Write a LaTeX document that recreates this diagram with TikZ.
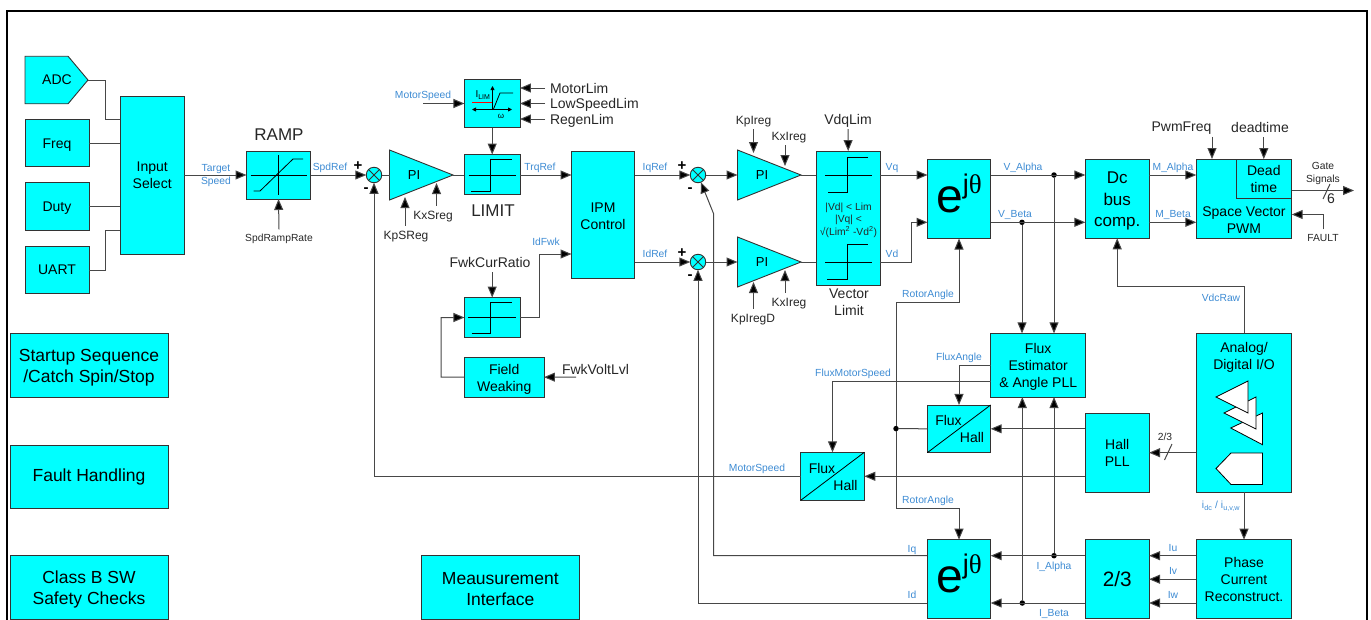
\documentclass[tikz,border=0pt]{standalone}
\usepackage{fontspec}
\usepackage{xcolor}
\usepackage{tikz}
\usetikzlibrary{shapes,arrows.meta,positioning,fit,backgrounds}
\setmainfont{Liberation Sans}
\newfontfamily\thetafont{Liberation Serif}
\definecolor{blockcyan}{HTML}{00FFFF}
\definecolor{sigblue}{HTML}{3D8BD3}
\newcommand{\ejtheta}{\smash{\raisebox{-13pt}{\fontsize{48}{48}\selectfont e\raisebox{19pt}{\fontsize{27}{27}\selectfont j\thetafont θ}}}}
\newcommand{\toprule}[1]{\rule{0pt}{#1pt}}

\begin{document}
\begin{tikzpicture}[x=1pt,y=-1pt,>={Triangle[length=11pt,width=9pt,fill=black]},
    every node/.style={inner sep=0pt,outer sep=0pt,align=center},
    blockbox/.style={draw=black!80,line width=0.9pt,fill=blockcyan,font=\fontsize{14}{17}\selectfont},
    bigbox/.style={blockbox,font=\fontsize{17.5}{21}\selectfont},
    pibox/.style={blockbox,isosceles triangle,isosceles triangle stretches,shape border rotate=0,minimum width=50pt,minimum height=63.5pt,anchor=lower side},
    pitext/.style={font=\fontsize{13}{15}\selectfont},
    sumbox/.style={circle,draw=black!80,line width=0.9pt,fill=blockcyan,minimum size=15.5pt,path picture={\draw[line width=0.8pt] (path picture bounding box.north west) -- (path picture bounding box.south east) (path picture bounding box.north east) -- (path picture bounding box.south west);}},
    dotbox/.style={circle,fill=black,minimum size=5.5pt},
    siglabel/.style={text=sigblue,text depth=0pt,font=\fontsize{10.3}{13}\selectfont},
    parlabel/.style={text=black!85,inner sep=5pt,text depth=0pt,font=\fontsize{14}{17}\selectfont},
    gainlabel/.style={parlabel,font=\fontsize{12}{15}\selectfont},
    smalllabel/.style={parlabel,font=\fontsize{10.3}{12.5}\selectfont},
    sign/.style={text=black,font=\fontsize{15}{15}\selectfont\bfseries},
    wire/.style={draw=black!72,line width=1pt},
    curve/.style={draw=black,line width=0.8pt}]
    \path[use as bounding box,clip] (0,0) rectangle (1371,619);
    \draw[line width=2.2pt] (7,11) rectangle (1367,660);

    % Entradas y rampa
    \node[blockbox,signal,signal to=east,signal pointer angle=100,minimum width=63pt,minimum height=47.5pt,anchor=west] (adc) at (25,80) {};
    \node[font=\fontsize{14}{17}\selectfont] (adctext) at (57,80) {ADC};
    \node[blockbox,minimum width=64pt,minimum height=47.5pt] (freq) at (57,143) {\toprule{13.5}Freq};
    \node[blockbox,minimum width=64pt,minimum height=47.5pt] (duty) at (57,206.5) {\toprule{13.5}Duty};
    \node[blockbox,minimum width=64pt,minimum height=47.5pt] (uart) at (57,270) {UART};
    \node[blockbox,minimum width=63.5pt,minimum height=158.5pt] (select) at (152.2,175.2) {Input\\Select};
    \node[blockbox,minimum width=64pt,minimum height=48pt] (ramp) at (278.5,175) {};
    \node[parlabel,font=\fontsize{17}{20}\selectfont] (ramptitle) at (279,135) {RAMP};
    \node[smalllabel] (ramprate) at (279,238) {SpdRampRate};
    \node[sumbox] (sumspd) at (374,175) {};
    \node[pibox] (pispd) at (389.5,175) {};
    \node[pitext] (pispdtext) at (414,175) {PI};
    \node[gainlabel] (kpsreg) at (406,235) {KpSReg};
    \node[gainlabel] (kxsreg) at (433,215) {KxSreg};
    \coordinate (kpspi) at (405,197);
    \coordinate (kxspi) at (436.5,183);

    % Limites
    \node[blockbox,minimum width=55.5pt,minimum height=48pt] (limcurve) at (492.2,103.5) {};
    \node[blockbox,minimum width=55.5pt,minimum height=40pt] (limit) at (492.2,174.5) {};
    \node[parlabel,font=\fontsize{17}{20}\selectfont] (limittitle) at (493,211) {LIMIT};
    \node[parlabel,anchor=west] (motorlim) at (545,88) {MotorLim};
    \node[parlabel,anchor=west] (lowlim) at (545,103.5) {LowSpeedLim};
    \node[parlabel,anchor=west] (regenlim) at (545,119) {RegenLim};
    \coordinate (speedin) at (423,103.5);
    \node[blockbox,minimum width=63pt,minimum height=127pt] (ipm) at (603,214.5) {\toprule{12.5}IPM\\Control};
    \node[blockbox,minimum width=55.5pt,minimum height=40pt] (fwklim) at (492.2,317.5) {};
    \node[parlabel] (fwkratio) at (490,262) {FwkCurRatio};
    \node[blockbox,minimum width=79.5pt,minimum height=39.5pt] (field) at (504.2,377.2) {\toprule{14}Field\\Weaking};
    \node[parlabel,anchor=west] (fwkvolt) at (557,369) {FwkVoltLvl};
    \coordinate (fwkbend) at (441,377);
    \coordinate (fwkvin) at (576,377);
    \coordinate (idfwkbend) at (539.5,317.5);

    % Cajas sueltas
    \node[bigbox,minimum width=158pt,minimum height=64pt] (startup) at (89,365) {\toprule{18.5}Startup Sequence\\/Catch Spin/Stop};
    \node[bigbox,minimum width=158pt,minimum height=63pt] (fault) at (89,476.5) {Fault Handling};
    \node[bigbox,minimum width=158pt,minimum height=64pt] (classb) at (89,587.5) {\toprule{17}Class B SW\\Safety Checks};
    \node[bigbox,minimum width=158.5pt,minimum height=64pt] (measure) at (500.3,587.5) {\toprule{15}Meausurement\\Interface};

    % Lazos de corriente
    \node[sumbox] (sumiq) at (698,175) {};
    \node[sumbox] (sumid) at (698,262) {};
    \node[pibox] (piq) at (737.5,175) {};
    \node[pibox] (pid) at (737.5,262) {};
    \node[pitext] (piqtext) at (762,175) {PI};
    \node[pitext] (pidtext) at (762,262) {PI};
    \node[gainlabel] (kpireg) at (753.5,120) {KpIreg};
    \node[gainlabel] (kxireg) at (789,136) {KxIreg};
    \node[gainlabel] (kxiregd) at (789,302) {KxIreg};
    \node[gainlabel] (kpiregd) at (753,318) {KpIregD};
    \coordinate (kpqpi) at (753.5,153);
    \coordinate (kxqpi) at (785,166);
    \coordinate (kxdpi) at (785,270);
    \coordinate (kpdpi) at (753.5,282);
    \node[blockbox,minimum width=63.5pt,minimum height=134.7pt] (vlim) at (848.2,218.4) {};
    \node[parlabel] (vdqlim) at (848,119) {VdqLim};
    \node[text=black!85,font=\fontsize{10.3}{12.5}\selectfont] (vlimtext) at (848.5,220) {|Vd| < Lim\\|Vq| <\\√(Lim\textsuperscript{2} -Vd\textsuperscript{2})};
    \node[parlabel] (vlimtitle) at (849,302) {Vector\\Limit};
    \node[blockbox,minimum width=63pt,minimum height=79pt] (erota) at (959,199) {\ejtheta};
    \coordinate (vdbend) at (911,262);
    \coordinate (vdin) at (927.5,222.3);

    % Modulador
    \node[dotbox] (valpha) at (1054,175) {};
    \node[dotbox] (vbeta) at (1022,222.3) {};
    \node[blockbox,font=\fontsize{17}{21.5}\selectfont,minimum width=63.7pt,minimum height=79pt] (dcbus) at (1117.2,198.8) {\toprule{16.5}Dc\\bus\\comp.};
    \node[blockbox,minimum width=95.4pt,minimum height=79.3pt] (svpwm) at (1244,198.7) {};
    \node[blockbox,minimum width=55.7pt,minimum height=39.7pt] (deadbox) at (1263.8,178.9) {Dead\\time};
    \node[text=black,font=\fontsize{14}{17}\selectfont] (svtext) at (1244,219.8) {Space Vector\\PWM};
    \node[parlabel] (pwmfreq) at (1181.5,127) {PwmFreq};
    \node[parlabel] (deadtime) at (1260,127) {deadtime};
    \node[smalllabel] (fault2) at (1323,238) {FAULT};
    \node[smalllabel] (gate) at (1323,172.5) {Gate\\Signals};
    \node[parlabel] (gatesix) at (1331,199) {6};
    \coordinate (gateend) at (1354,190.5);
    \coordinate (faultbend) at (1323,214.5);
    \coordinate (vdcbend) at (1244,286);
    \coordinate (pwmin) at (1212,159);

    % Observador y Hall
    \node[blockbox,minimum width=95pt,minimum height=63.7pt] (flux) at (1038.2,365.2) {\toprule{13}Flux\\Estimator\\\& Angle PLL};
    \node[blockbox,minimum width=63.4pt,minimum height=47.7pt] (fluxhallA) at (959,428.8) {};
    \node[blockbox,minimum width=63.6pt,minimum height=48pt] (fluxhallB) at (832.5,476.3) {};
    \node[text=black,font=\fontsize{14}{17}\selectfont] (fluxA) at (948.5,420) {Flux};
    \node[text=black,font=\fontsize{14}{17}\selectfont] (hallA) at (972,437) {Hall};
    \node[text=black,font=\fontsize{14}{17}\selectfont] (fluxB) at (822,468) {Flux};
    \node[text=black,font=\fontsize{14}{17}\selectfont] (hallB) at (845.5,485) {Hall};
    \node[dotbox] (angledot) at (896,428.6) {};
    \coordinate (rottop) at (896,302);
    \coordinate (rotbot) at (896,508);
    \coordinate (speedbend) at (832.5,381);
    \node[blockbox,minimum width=63.7pt,minimum height=79.3pt] (hallpll) at (1117.2,452.7) {Hall\\PLL};
    \node[blockbox,minimum width=95.4pt,minimum height=159pt] (analog) at (1244,412.8) {};
    \node[text=black,font=\fontsize{14}{17}\selectfont] (analogtext) at (1244,357.5) {Analog/\\Digital I/O};
    \node[smalllabel] (twothirds) at (1165,437) {2/3};

    % Corrientes
    \node[blockbox,minimum width=63.4pt,minimum height=79pt] (erotb) at (959,579.2) {\ejtheta};
    \node[blockbox,font=\fontsize{20.8}{24}\selectfont,minimum width=63.7pt,minimum height=79pt] (clarke) at (1117.2,579.2) {2/3};
    \node[blockbox,minimum width=95.4pt,minimum height=79pt] (phase) at (1244,579.2) {Phase\\Current\\Reconstruct.};
    \node[dotbox] (ialpha) at (1054,555.7) {};
    \node[dotbox] (ibeta) at (1022.3,603) {};
    \coordinate (iqbend) at (713.7,214);

    % Etiquetas de senal
    \node[siglabel] (tgtlabel) at (216,174.5) {Target\\Speed};
    \node[siglabel] (spdlabel) at (330,167) {SpdRef};
    \node[sign] (plus1) at (358,166) {+};
    \node[sign] (minus1) at (366,190) {-};
    \node[siglabel] (mslabel) at (423,95) {MotorSpeed};
    \node[siglabel] (trqlabel) at (540,167) {TrqRef};
    \node[siglabel] (idfwklabel) at (546,242) {IdFwk};
    \node[siglabel] (iqreflabel) at (655,167) {IqRef};
    \node[siglabel] (idreflabel) at (655,254) {IdRef};
    \node[sign] (plus2) at (682,166) {+};
    \node[sign] (minus2) at (690,190) {-};
    \node[sign] (plus3) at (682,253) {+};
    \node[sign] (minus3) at (690,277) {-};
    \node[siglabel] (vqlabel) at (892,167) {Vq};
    \node[siglabel] (vdlabel) at (892,254) {Vd};
    \node[siglabel] (rotlabelA) at (928,294) {RotorAngle};
    \node[siglabel] (rotlabelB) at (928,500) {RotorAngle};
    \node[siglabel] (valabel) at (1023,167) {V\_Alpha};
    \node[siglabel] (vblabel) at (1015,214) {V\_Beta};
    \node[siglabel] (malabel) at (1173,167) {M\_Alpha};
    \node[siglabel] (mblabel) at (1173,214) {M\_Beta};
    \node[siglabel] (vdclabel) at (1221,298) {VdcRaw};
    \node[siglabel] (falabel) at (959,357) {FluxAngle};
    \node[siglabel] (fslabel) at (853,373) {FluxMotorSpeed};
    \node[siglabel] (mslabelB) at (757,468) {MotorSpeed};
    \node[siglabel] (iqlabel) at (912,549) {Iq};
    \node[siglabel] (idlabel) at (912,595) {Id};
    \node[siglabel] (ialabel) at (1054,565.5) {I\_Alpha};
    \node[siglabel] (iblabel) at (1054,613) {I\_Beta};
    \node[siglabel] (iulabel) at (1173,548) {Iu};
    \node[siglabel] (ivlabel) at (1173,571) {Iv};
    \node[siglabel] (iwlabel) at (1173,595) {Iw};
    \node[siglabel] (idclabel) at (1221,505) {i\textsubscript{dc} / i\textsubscript{u,v,w}};

    % Curvas dentro de los bloques
    \draw[curve] (ramp.west)++(4,0) -- ++(56,0);
    \draw[curve] (ramp.north)++(0,4) -- ++(0,40);
    \draw[curve] (253.5,191) -- (260,191) -- (293,159) -- (303,159);
    \draw[curve] (468.5,175) -- (516,175) (471,191) -- (490,191) -- (490,159) -- (512,159);
    \draw[curve] (468,317.5) -- (516,317.5) (471.5,333.5) -- (490.5,333.5) -- (490.5,302) -- (512,302);
    \draw[curve] (825,175) -- (872,175) (828,192) -- (847,192) -- (847,157) -- (868,157);
    \draw[curve] (825,262) -- (872,262) (827,279) -- (847,279) -- (847,244) -- (868,244);
    \draw[line width=1.2pt,red] (472,102.5) -- (492.5,102.5);
    \draw[curve,{Triangle[length=4pt,width=4pt]}-{Triangle[length=4pt,width=4pt]}] (472,109.5) -- (512,109.5);
    \draw[curve,-{Triangle[length=4pt,width=4pt]}] (492.5,110) -- (492.5,86);
    \draw[curve] (493.5,109) -- (500,93) -- (513,93);
    \node[font=\fontsize{10}{10}\selectfont] (ilim) at (483,95) {I\textsubscript{LIM}};
    \node[font=\fontsize{8}{8}\selectfont] (omega) at (501,116) {ω};
    \draw[line width=0.8pt] (fluxhallA.south west) -- (fluxhallA.north east);
    \draw[line width=0.8pt] (fluxhallB.south west) -- (fluxhallB.north east);
    \draw[curve,fill=white] (1230.7,428) -- (1262.5,413) -- (1262.5,444.7) -- cycle;
    \draw[curve,fill=white] (1224,413) -- (1256,397) -- (1256,429) -- cycle;
    \draw[curve,fill=white] (1216,397) -- (1248,381) -- (1248,413) -- cycle;
    \draw[curve,fill=white] (1216,468.5) -- (1231,453) -- (1262.5,453) -- (1262.5,484.5) -- (1231,484.5) -- cycle;
    \draw[wire] (1323,199) -- (1330,184);
    \draw[wire] (1164.5,460) -- (1172,444);

    % Conexiones
    \draw[wire] (adc.east) -- ++(17,0) |- (select.west |- freq.north);
    \draw[wire] (freq.east) -- (select.west |- freq.east);
    \draw[wire] (duty.east) -- (select.west |- duty.east);
    \draw[wire] (uart.east) -- ++(16,0) |- (select.west |- duty.south);
    \draw[wire,->] (select.east |- ramp.west) -- (ramp.west);
    \draw[wire,->] (ramprate.north) -- (ramp.south);
    \draw[wire,->] (ramp.east) -- (sumspd.west);
    \draw[wire] (sumspd.east) -- (pispd.lower side);
    \draw[wire,->] (kpspi |- kpsreg.north) -- (kpspi);
    \draw[wire,->] (kxspi |- kxsreg.north) -- (kxspi);
    \draw[wire] (pispd.apex) -- (limit.west |- pispd.apex);
    \draw[wire,->] (speedin) -- (limcurve.west |- speedin);
    \draw[wire,->] (motorlim.west) -- (limcurve.east |- motorlim.west);
    \draw[wire,->] (lowlim.west) -- (limcurve.east |- lowlim.west);
    \draw[wire,->] (regenlim.west) -- (limcurve.east |- regenlim.west);
    \draw[wire,->] (limcurve.south) -- (limit.north);
    \draw[wire,->] (limit.east |- ramp.west) -- (ipm.west |- ramp.west);
    \draw[wire,->] (fwkratio.south -| fwklim.north) -- (fwklim.north);
    \draw[wire] (fwklim.east) -- (idfwkbend);
    \draw[wire,->] (idfwkbend) |- (ipm.west |- 0,254);
    \draw[wire,->] (field.west) -- (fwkbend) |- (fwklim.west);
    \draw[wire,->] (fwkvin) -- (field.east);
    \draw[wire,->] (ipm.east |- sumiq) -- (sumiq.west);
    \draw[wire,->] (ipm.east |- sumid) -- (sumid.west);
    \draw[wire,->] (sumiq.east) -- (piq.lower side);
    \draw[wire,->] (sumid.east) -- (pid.lower side);
    \draw[wire,->] (kpqpi |- kpireg.south) -- (kpqpi);
    \draw[wire,->] (kxqpi |- kxireg.south) -- (kxqpi);
    \draw[wire,->] (kxdpi |- kxiregd.north) -- (kxdpi);
    \draw[wire,->] (kpdpi |- kpiregd.north) -- (kpdpi);
    \draw[wire] (piq.apex) -- (vlim.west |- piq.apex);
    \draw[wire] (pid.apex) -- (vlim.west |- pid.apex);
    \draw[wire,->] (vdqlim.south) -- (vlim.north);
    \draw[wire,->] (vlim.east |- sumiq) -- (erota.west |- sumiq);
    \draw[wire,->] (vlim.east |- sumid) -- (vdbend) |- (vdin);
    \draw[wire,->] (erota.east |- valpha) -- (dcbus.west |- valpha);
    \draw[wire,->] (erota.east |- vbeta) -- (dcbus.west |- vbeta);
    \draw[wire,->] (valpha) -- (valpha |- flux.north);
    \draw[wire,->] (vbeta) -- (vbeta |- flux.north);
    \draw[wire,->] (dcbus.east |- valpha) -- (svpwm.west |- valpha);
    \draw[wire,->] (dcbus.east |- vbeta) -- (svpwm.west |- vbeta);
    \draw[wire,->] (pwmin |- pwmfreq.south) -- (pwmin);
    \draw[wire,->] (deadtime.south -| deadbox.north) -- (deadbox.north);
    \draw[wire,->] (svpwm.east |- gateend) -- (gateend);
    \draw[wire,->] (fault2.north) -- (faultbend) -- (svpwm.east |- faultbend);
    \draw[wire,->] (analog.north) -- (vdcbend) -| (dcbus.south);
    \draw[wire,->] (flux.west) -- (fluxhallA.north |- flux.west) -- (fluxhallA.north);
    \draw[wire,->] (flux.west |- speedbend) -- (speedbend) -- (fluxhallB.north);
    \draw[wire,->] (hallpll.west |- fluxhallA.east) -- (fluxhallA.east);
    \draw[wire,->] (hallpll.west |- fluxhallB.east) -- (fluxhallB.east);
    \draw[wire] (fluxhallA.west) -- (angledot);
    \draw[wire,->] (angledot) -- (rottop) -| (erota.south);
    \draw[wire,->] (angledot) -- (rotbot) -| (erotb.north);
    \draw[wire,->] (fluxhallB.west) -| (sumspd.south);
    \draw[wire,->] (analog.west |- hallpll.east) -- (hallpll.east);
    \draw[wire,->] (analog.south) -- (phase.north);
    \draw[wire,->] (phase.west |- ialpha) -- (clarke.east |- ialpha);
    \draw[wire,->] (phase.west) -- (clarke.east);
    \draw[wire,->] (phase.west |- ibeta) -- (clarke.east |- ibeta);
    \draw[wire,->] (clarke.west |- ialpha) -- (erotb.east |- ialpha);
    \draw[wire,->] (clarke.west |- ibeta) -- (erotb.east |- ibeta);
    \draw[wire,->] (ialpha) -- (ialpha |- flux.south);
    \draw[wire,->] (ibeta) -- (ibeta |- flux.south);
    \draw[wire,->] (erotb.west |- ialpha) -| (iqbend) -- (sumiq);
    \draw[wire,->] (erotb.west |- ibeta) -| (sumid.south);
\end{tikzpicture}
\end{document}
